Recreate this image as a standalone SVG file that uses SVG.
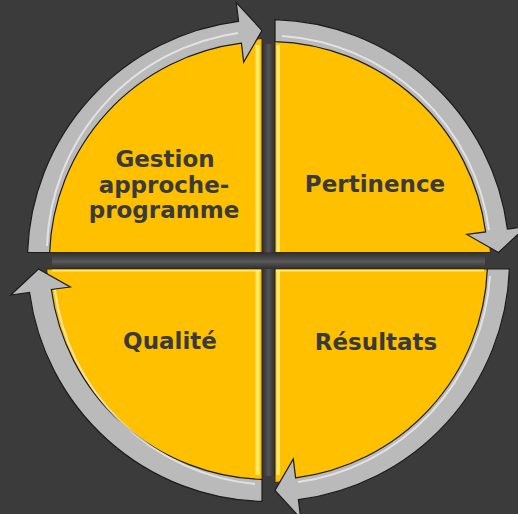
<svg xmlns="http://www.w3.org/2000/svg" width="518" height="514" viewBox="0 0 518 514">
<defs>
<style>
.q{fill:#ffc000;stroke:#2a2a2a;stroke-width:1}
.hl{fill:#fff07a;opacity:0.85}
.arr{fill:#bababa;stroke:#1c1c1c;stroke-width:1.2;stroke-linejoin:miter}
.shine{fill:none;stroke:#f4f4f4;stroke-width:2;opacity:0.7}
.t{font-family:"DejaVu Sans","Verdana",sans-serif;font-weight:bold;font-size:23px;fill:#3a3a3a;text-anchor:middle}
</style>
<linearGradient id="gv" x1="0" y1="0" x2="1" y2="0">
<stop offset="0" stop-color="#2e2e2e"/><stop offset="0.5" stop-color="#555555"/><stop offset="1" stop-color="#2e2e2e"/>
</linearGradient>
<linearGradient id="gh" x1="0" y1="0" x2="0" y2="1">
<stop offset="0" stop-color="#2e2e2e"/><stop offset="0.55" stop-color="#585858"/><stop offset="1" stop-color="#2e2e2e"/>
</linearGradient>
</defs>
<rect width="518" height="514" fill="#3b3b3b"/>
<rect x="262" y="44" width="13" height="432" fill="url(#gv)"/>
<rect x="52" y="252.5" width="433" height="16.5" fill="url(#gh)"/>

<g id="node-gestion">
<path class="q" d="M262,252.5 L46.6,252.5 A222,222 0 0 1 262,38.6 Z"/>
<rect class="hl" x="255.5" y="45" width="4" height="207"/>
<text class="t" x="165" y="167">Gestion</text>
<text class="t" x="164" y="192.5">approche-</text>
<text class="t" x="164" y="218">programme</text>
</g>
<g id="node-pertinence">
<path class="q" d="M275,252.5 L275,38.6 A222,222 0 0 1 490.4,252.5 Z"/>
<rect class="hl" x="276.5" y="45" width="3.5" height="207"/>
<text class="t" x="375" y="192">Pertinence</text>
</g>
<g id="node-resultats">
<path class="q" d="M275,269 L490.3,269 A222,222 0 0 1 275,482.4 Z"/>
<rect class="hl" x="276.5" y="270" width="3.5" height="205"/>
<rect class="hl" x="276" y="269.5" width="208" height="2"/>
<text class="t" x="376" y="350">Résultats</text>
</g>
<g id="node-qualite">
<path class="q" d="M262,269 L262,482.4 A222,222 0 0 1 46.7,269 Z"/>
<rect class="hl" x="255.5" y="270" width="4" height="205"/>
<rect class="hl" x="52" y="269.5" width="209" height="2"/>
<text class="t" x="170" y="349">Qualité</text>
</g>

<g id="connectors">
<path class="arr" d="M27.6,252.5 A241,241 0 0 1 238.6,21.4 L236.3,2.5 L262,30.5 L243.7,62.1 L241.4,43.2 A219,219 0 0 0 49.65,252.5 Z"/>
<path class="arr" d="M275,19.6 A241,241 0 0 1 507.4,229.1 L526.3,226.6 L498.5,252.5 L466.8,234.4 L485.6,231.9 A219,219 0 0 0 275,41.6 Z"/>
<path class="arr" d="M509.35,269 A241,241 0 0 1 298.4,499.6 L300.7,518.5 L275,490.5 L293.3,458.9 L295.6,477.8 A219,219 0 0 0 487.33,269 Z"/>
<path class="arr" d="M262,501.4 A241,241 0 0 1 29.6,292.5 L10.8,295 L38.5,269 L70.3,287 L51.4,289.5 A219,219 0 0 0 262,479.4 Z"/>
<path class="shine" d="M47,246 A223,223 0 0 1 238,33"/>
<path class="shine" d="M282,36 A224,224 0 0 1 489,230"/>
<path class="shine" d="M490,276 A223,223 0 0 1 298,482"/>
<path class="shine" d="M255,484 A223,223 0 0 1 55,290"/>
</g>
</svg>
